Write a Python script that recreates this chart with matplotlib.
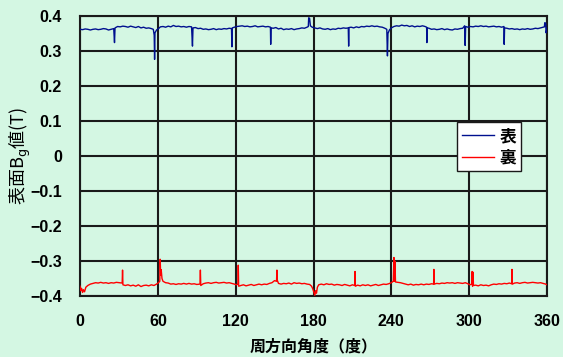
import matplotlib
matplotlib.use("Agg")
import matplotlib.pyplot as plt

# 表 (front) surface Bg values
front_deg = [0, 2, 4, 6, 8, 10, 12, 14, 16, 18, 20, 22, 24, 26, 26.6, 27.0, 29, 31, 33, 35,
             37, 39, 41, 43, 45, 47, 49, 51, 53, 55, 56.5, 57.2, 57.5, 57.8, 59, 60.5, 62, 64, 66, 68,
             70, 72, 74, 76, 78, 80, 82, 84, 86, 86.7, 87.1, 89, 91, 93, 95, 97, 99, 101, 103, 105,
             107, 109, 111, 113, 115, 116.8, 117.1, 117.4, 119, 121, 123, 125, 127, 129, 131, 133, 135, 137, 139, 141,
             143, 145, 146.8, 147.0, 147.3, 149, 151, 153, 155, 157, 159, 161, 163, 165, 167, 169, 171, 173, 175, 176,
             176.3, 177, 177.6, 179, 181, 183, 185, 187, 189, 191, 193, 195, 197, 199, 201, 203, 205, 206.8, 207.1, 207.4,
             209, 211, 213, 215, 217, 219, 221, 223, 225, 227, 229, 231, 233, 235, 236.5, 237.0, 237.4, 238.5, 240, 242,
             244, 246, 248, 250, 252, 254, 256, 258, 260, 262, 264, 266, 267.2, 267.4, 267.6, 269, 271, 273, 275, 277,
             279, 281, 283, 285, 287, 289, 291, 293, 295, 296.5, 296.9, 297.3, 299, 301, 303, 305, 307, 309, 311, 313,
             315, 317, 319, 321, 323, 325, 326.8, 327.0, 327.3, 329, 331, 333, 335, 337, 339, 341, 343, 345, 347, 349,
             351, 353, 355, 357, 358, 358.3, 359, 359.3, 360]
front_val = [0.362, 0.361, 0.363, 0.362, 0.360, 0.362, 0.363, 0.361, 0.362, 0.364, 0.363, 0.360, 0.362, 0.364, 0.324, 0.366, 0.370, 0.369, 0.371, 0.370,
             0.368, 0.371, 0.369, 0.367, 0.370, 0.366, 0.368, 0.365, 0.366, 0.364, 0.362, 0.345, 0.276, 0.352, 0.360, 0.364, 0.369, 0.370, 0.368, 0.371,
             0.369, 0.373, 0.370, 0.371, 0.369, 0.370, 0.368, 0.370, 0.369, 0.314, 0.366, 0.367, 0.364, 0.365, 0.362, 0.363, 0.361, 0.362, 0.364, 0.361,
             0.363, 0.362, 0.364, 0.363, 0.365, 0.364, 0.312, 0.366, 0.368, 0.370, 0.371, 0.372, 0.370, 0.371, 0.369, 0.370, 0.372, 0.369, 0.370, 0.371,
             0.369, 0.370, 0.368, 0.319, 0.366, 0.365, 0.367, 0.363, 0.365, 0.361, 0.363, 0.362, 0.364, 0.361, 0.363, 0.364, 0.366, 0.365, 0.368, 0.370,
             0.395, 0.393, 0.372, 0.368, 0.366, 0.364, 0.366, 0.363, 0.362, 0.364, 0.361, 0.363, 0.362, 0.365, 0.364, 0.366, 0.365, 0.366, 0.314, 0.367,
             0.368, 0.366, 0.369, 0.367, 0.370, 0.369, 0.371, 0.370, 0.372, 0.370, 0.371, 0.369, 0.368, 0.365, 0.362, 0.286, 0.350, 0.360, 0.366, 0.370,
             0.372, 0.371, 0.374, 0.372, 0.373, 0.370, 0.372, 0.369, 0.371, 0.370, 0.372, 0.370, 0.368, 0.324, 0.366, 0.365, 0.362, 0.363, 0.361, 0.362,
             0.364, 0.361, 0.363, 0.361, 0.360, 0.363, 0.362, 0.364, 0.365, 0.372, 0.316, 0.370, 0.368, 0.370, 0.369, 0.371, 0.370, 0.372, 0.370, 0.371,
             0.369, 0.370, 0.371, 0.369, 0.370, 0.368, 0.370, 0.319, 0.366, 0.365, 0.363, 0.364, 0.362, 0.363, 0.361, 0.363, 0.362, 0.364, 0.362, 0.363,
             0.365, 0.364, 0.366, 0.368, 0.369, 0.381, 0.379, 0.352, 0.365]

# 裏 (back) surface Bg values
back_deg = [0, 0.5, 1.2, 2, 2.6, 3.5, 4.5, 6, 8, 10, 12, 14, 16, 18, 20, 22, 24, 26, 28, 30,
            32.5, 32.8, 33.1, 35, 37, 39, 41, 43, 45, 47, 49, 51, 53, 55, 57, 59, 60.5, 61.5, 61.8, 62.2,
            62.6, 63.2, 64, 66, 68, 70, 72, 74, 76, 78, 80, 82, 84, 86, 88, 90, 92.5, 92.8, 93.1, 95,
            97, 99, 101, 103, 105, 107, 109, 111, 113, 115, 117, 119, 120.5, 121.8, 122.0, 122.3, 124, 126, 128, 130,
            132, 134, 136, 138, 140, 142, 144, 146, 148, 150, 151.5, 151.8, 152.1, 153, 155, 157, 159, 161, 163, 165,
            167, 169, 171, 173, 175, 177, 178.5, 179.5, 180.3, 181, 181.6, 182.3, 183, 184, 186, 188, 190, 192, 194, 196,
            198, 200, 202, 204, 206, 208, 210, 211.8, 212.0, 212.3, 214, 216, 218, 220, 222, 224, 226, 228, 230, 232,
            234, 236, 238, 240, 241.5, 242.0, 242.4, 242.8, 243.2, 245, 247, 249, 251, 253, 255, 257, 259, 261, 263, 265,
            267, 269, 271, 272.6, 272.8, 273.1, 275, 277, 279, 281, 283, 285, 287, 289, 291, 293, 295, 297, 299, 300.5,
            302, 302.3, 302.6, 303.0, 303.3, 305, 307, 309, 311, 313, 315, 317, 319, 321, 323, 325, 327, 329, 331, 332.8,
            333.0, 333.3, 335, 337, 339, 341, 343, 345, 347, 349, 351, 353, 355, 357, 359, 360]
back_val = [-0.372, -0.385, -0.378, -0.390, -0.382, -0.388, -0.375, -0.370, -0.366, -0.364, -0.362, -0.363, -0.361, -0.363, -0.362, -0.364, -0.362, -0.363, -0.361, -0.362,
            -0.363, -0.326, -0.368, -0.370, -0.368, -0.371, -0.369, -0.372, -0.368, -0.373, -0.370, -0.369, -0.371, -0.368, -0.370, -0.366, -0.362, -0.358, -0.295, -0.340,
            -0.325, -0.350, -0.358, -0.362, -0.363, -0.366, -0.365, -0.367, -0.365, -0.366, -0.364, -0.366, -0.364, -0.366, -0.365, -0.367, -0.366, -0.326, -0.370, -0.365,
            -0.363, -0.362, -0.364, -0.362, -0.361, -0.363, -0.362, -0.361, -0.363, -0.362, -0.364, -0.366, -0.368, -0.366, -0.312, -0.372, -0.370, -0.368, -0.371, -0.369,
            -0.367, -0.370, -0.368, -0.366, -0.368, -0.366, -0.367, -0.364, -0.362, -0.356, -0.358, -0.326, -0.355, -0.364, -0.366, -0.364, -0.365, -0.363, -0.366, -0.362,
            -0.364, -0.363, -0.365, -0.364, -0.366, -0.367, -0.372, -0.380, -0.390, -0.398, -0.385, -0.392, -0.375, -0.368, -0.366, -0.368, -0.365, -0.367, -0.366, -0.369,
            -0.367, -0.368, -0.370, -0.367, -0.369, -0.371, -0.368, -0.370, -0.330, -0.372, -0.369, -0.371, -0.368, -0.370, -0.368, -0.371, -0.369, -0.367, -0.370, -0.368,
            -0.366, -0.367, -0.365, -0.362, -0.358, -0.290, -0.358, -0.300, -0.360, -0.361, -0.362, -0.364, -0.366, -0.368, -0.366, -0.369, -0.367, -0.368, -0.366, -0.368,
            -0.366, -0.367, -0.365, -0.366, -0.324, -0.366, -0.364, -0.365, -0.363, -0.364, -0.362, -0.363, -0.362, -0.364, -0.362, -0.363, -0.364, -0.362, -0.365, -0.368,
            -0.366, -0.330, -0.372, -0.332, -0.370, -0.369, -0.371, -0.368, -0.370, -0.369, -0.371, -0.368, -0.366, -0.367, -0.365, -0.366, -0.364, -0.365, -0.363, -0.365,
            -0.324, -0.366, -0.363, -0.362, -0.364, -0.362, -0.361, -0.363, -0.362, -0.361, -0.362, -0.363, -0.362, -0.364, -0.366, -0.368]

x_ticks = [0, 60, 120, 180, 240, 300, 360]
y_ticks = [-0.4, -0.3, -0.2, -0.1, 0, 0.1, 0.2, 0.3, 0.4]
y_tick_labels = ["\u22120.4", "\u22120.3", "\u22120.2", "\u22120.1", "0", "0.1", "0.2", "0.3", "0.4"]

BG = "#d4f7e3"
JP = ["Noto Sans CJK JP", "DejaVu Sans"]


def main():
    fig = plt.figure(figsize=(5.63, 3.57), dpi=100, facecolor=BG)
    ax = fig.add_axes([80 / 563, 1 - 296 / 357, 467 / 563, 280 / 357])
    ax.set_facecolor(BG)

    ax.plot(front_deg, front_val, color="#00108f", lw=1.0, label="表", zorder=3)
    ax.plot(back_deg, back_val, color="#ff0000", lw=1.0, label="裏", zorder=3)

    ax.set_xlim(0, 360)
    ax.set_ylim(-0.4, 0.4)
    ax.set_xticks(x_ticks)
    ax.set_yticks(y_ticks)
    ax.set_xticklabels([str(t) for t in x_ticks], family="Liberation Sans",
                       fontweight="bold", fontsize=11.5)
    ax.set_yticklabels(y_tick_labels, family="Liberation Sans",
                       fontweight="bold", fontsize=11.5)
    ax.tick_params(length=0)
    ax.tick_params(axis="y", pad=13)
    ax.tick_params(axis="x", pad=13)
    ax.grid(True, color="#1a1a1a", lw=1.5)
    ax.set_axisbelow(True)
    for s in ax.spines.values():
        s.set_color("#1a1a1a")
        s.set_linewidth(1.5)

    ax.set_xlabel("周方向角度（度）", family=JP, fontweight="bold", fontsize=11.5, labelpad=7)
    ax.set_ylabel("表面B$_\\mathrm{g}$値(T)", family=JP, fontsize=13, labelpad=-2)

    leg = ax.legend(loc="upper left", bbox_to_anchor=(457 / 563, 1 - 122 / 357),
                    bbox_transform=fig.transFigure, frameon=True, fancybox=False,
                    prop={"family": JP, "weight": "bold", "size": 12},
                    handlelength=1.9, handletextpad=0.35, borderpad=0.3,
                    labelspacing=0.2, borderaxespad=0)
    leg.get_frame().set_edgecolor("#1a1a1a")
    leg.get_frame().set_linewidth(1.0)
    leg.get_frame().set_facecolor("white")
    leg.get_frame().set_alpha(1)

    fig.savefig("out.png", dpi=100, facecolor=BG)


if __name__ == "__main__":
    main()
